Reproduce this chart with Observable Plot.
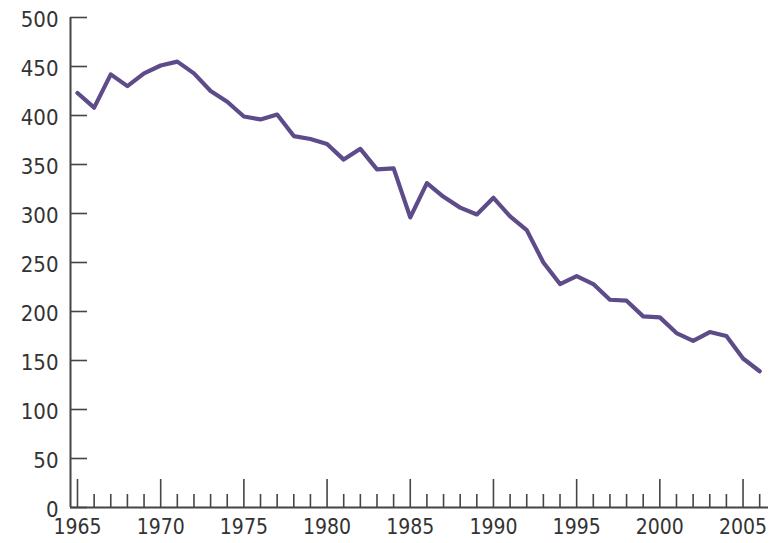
<!DOCTYPE html>
<html>
<head>
<meta charset="utf-8">
<script src="https://cdn.jsdelivr.net/npm/d3@7"></script>
<script src="https://cdn.jsdelivr.net/npm/@observablehq/plot@0.6"></script>
<style>
  html, body { margin: 0; padding: 0; background: #fff; }
  svg { display: block; }
</style>
</head>
<body>
<div id="chart"></div>
<script>
const years = [1965,1966,1967,1968,1969,1970,1971,1972,1973,1974,1975,1976,1977,1978,1979,1980,1981,1982,1983,1984,1985,1986,1987,1988,1989,1990,1991,1992,1993,1994,1995,1996,1997,1998,1999,2000,2001,2002,2003,2004,2005,2006];
const values = [423,408,442,430,443,451,455,443,425,414,399,396,401,379,376,371,355,366,345,346,296,331,317,306,299,316,297,283,250,228,236,228,212,211,195,194,178,170,179,175,152,139];
const majorTicks = [1965,1970,1975,1980,1985,1990,1995,2000,2005];
const minorTicks = years.filter(y => y % 5 !== 0);
const yTicks = [0,50,100,150,200,250,300,350,400,450,500];

const data = years.map((y, i) => ({year: y, value: values[i]}));

const W = 772, H = 543;
const mL = 70, mR = 4, mT = 17, mB = 36;
const frameW = W - mL - mR, frameH = H - mT - mB;
const axisColor = "#454545";
const font = "'Liberation Sans Narrow', 'DejaVu Sans Condensed', sans-serif";

const chart = Plot.plot({
  width: W,
  height: H,
  marginLeft: mL,
  marginRight: mR,
  marginTop: mT,
  marginBottom: mB,
  style: {fontFamily: font, color: "#333", background: "#fff"},
  x: {domain: [1964.58, 2006.53], axis: null},
  y: {domain: [0, 500], axis: null},
  marks: [
    Plot.tickX(majorTicks, {x: d => d, stroke: axisColor, strokeWidth: 1.6, insetTop: frameH - 28}),
    Plot.tickX(minorTicks, {x: d => d, stroke: axisColor, strokeWidth: 1.6, insetTop: frameH - 13}),
    Plot.tickY(yTicks, {y: d => d, stroke: axisColor, strokeWidth: 1.6, insetRight: frameW - 17}),
    Plot.ruleY([0], {stroke: axisColor, strokeWidth: 2}),
    Plot.ruleX([1964.58], {y1: 0, y2: 500, stroke: axisColor, strokeWidth: 2}),
    Plot.axisY(yTicks, {tickSize: 0, tickPadding: 12, fontSize: 22, dy: 2, fill: "#333", label: null}),
    Plot.axisX(majorTicks, {tickSize: 0, tickPadding: 4, fontSize: 21, dy: 8, fill: "#333", label: null, tickFormat: d => String(d)}),
    Plot.line(data, {x: "year", y: "value", stroke: "#5e4b8a", strokeWidth: 4.2, strokeLinejoin: "round", strokeLinecap: "round"})
  ]
});
document.getElementById("chart").appendChild(chart);
</script>
</body>
</html>
